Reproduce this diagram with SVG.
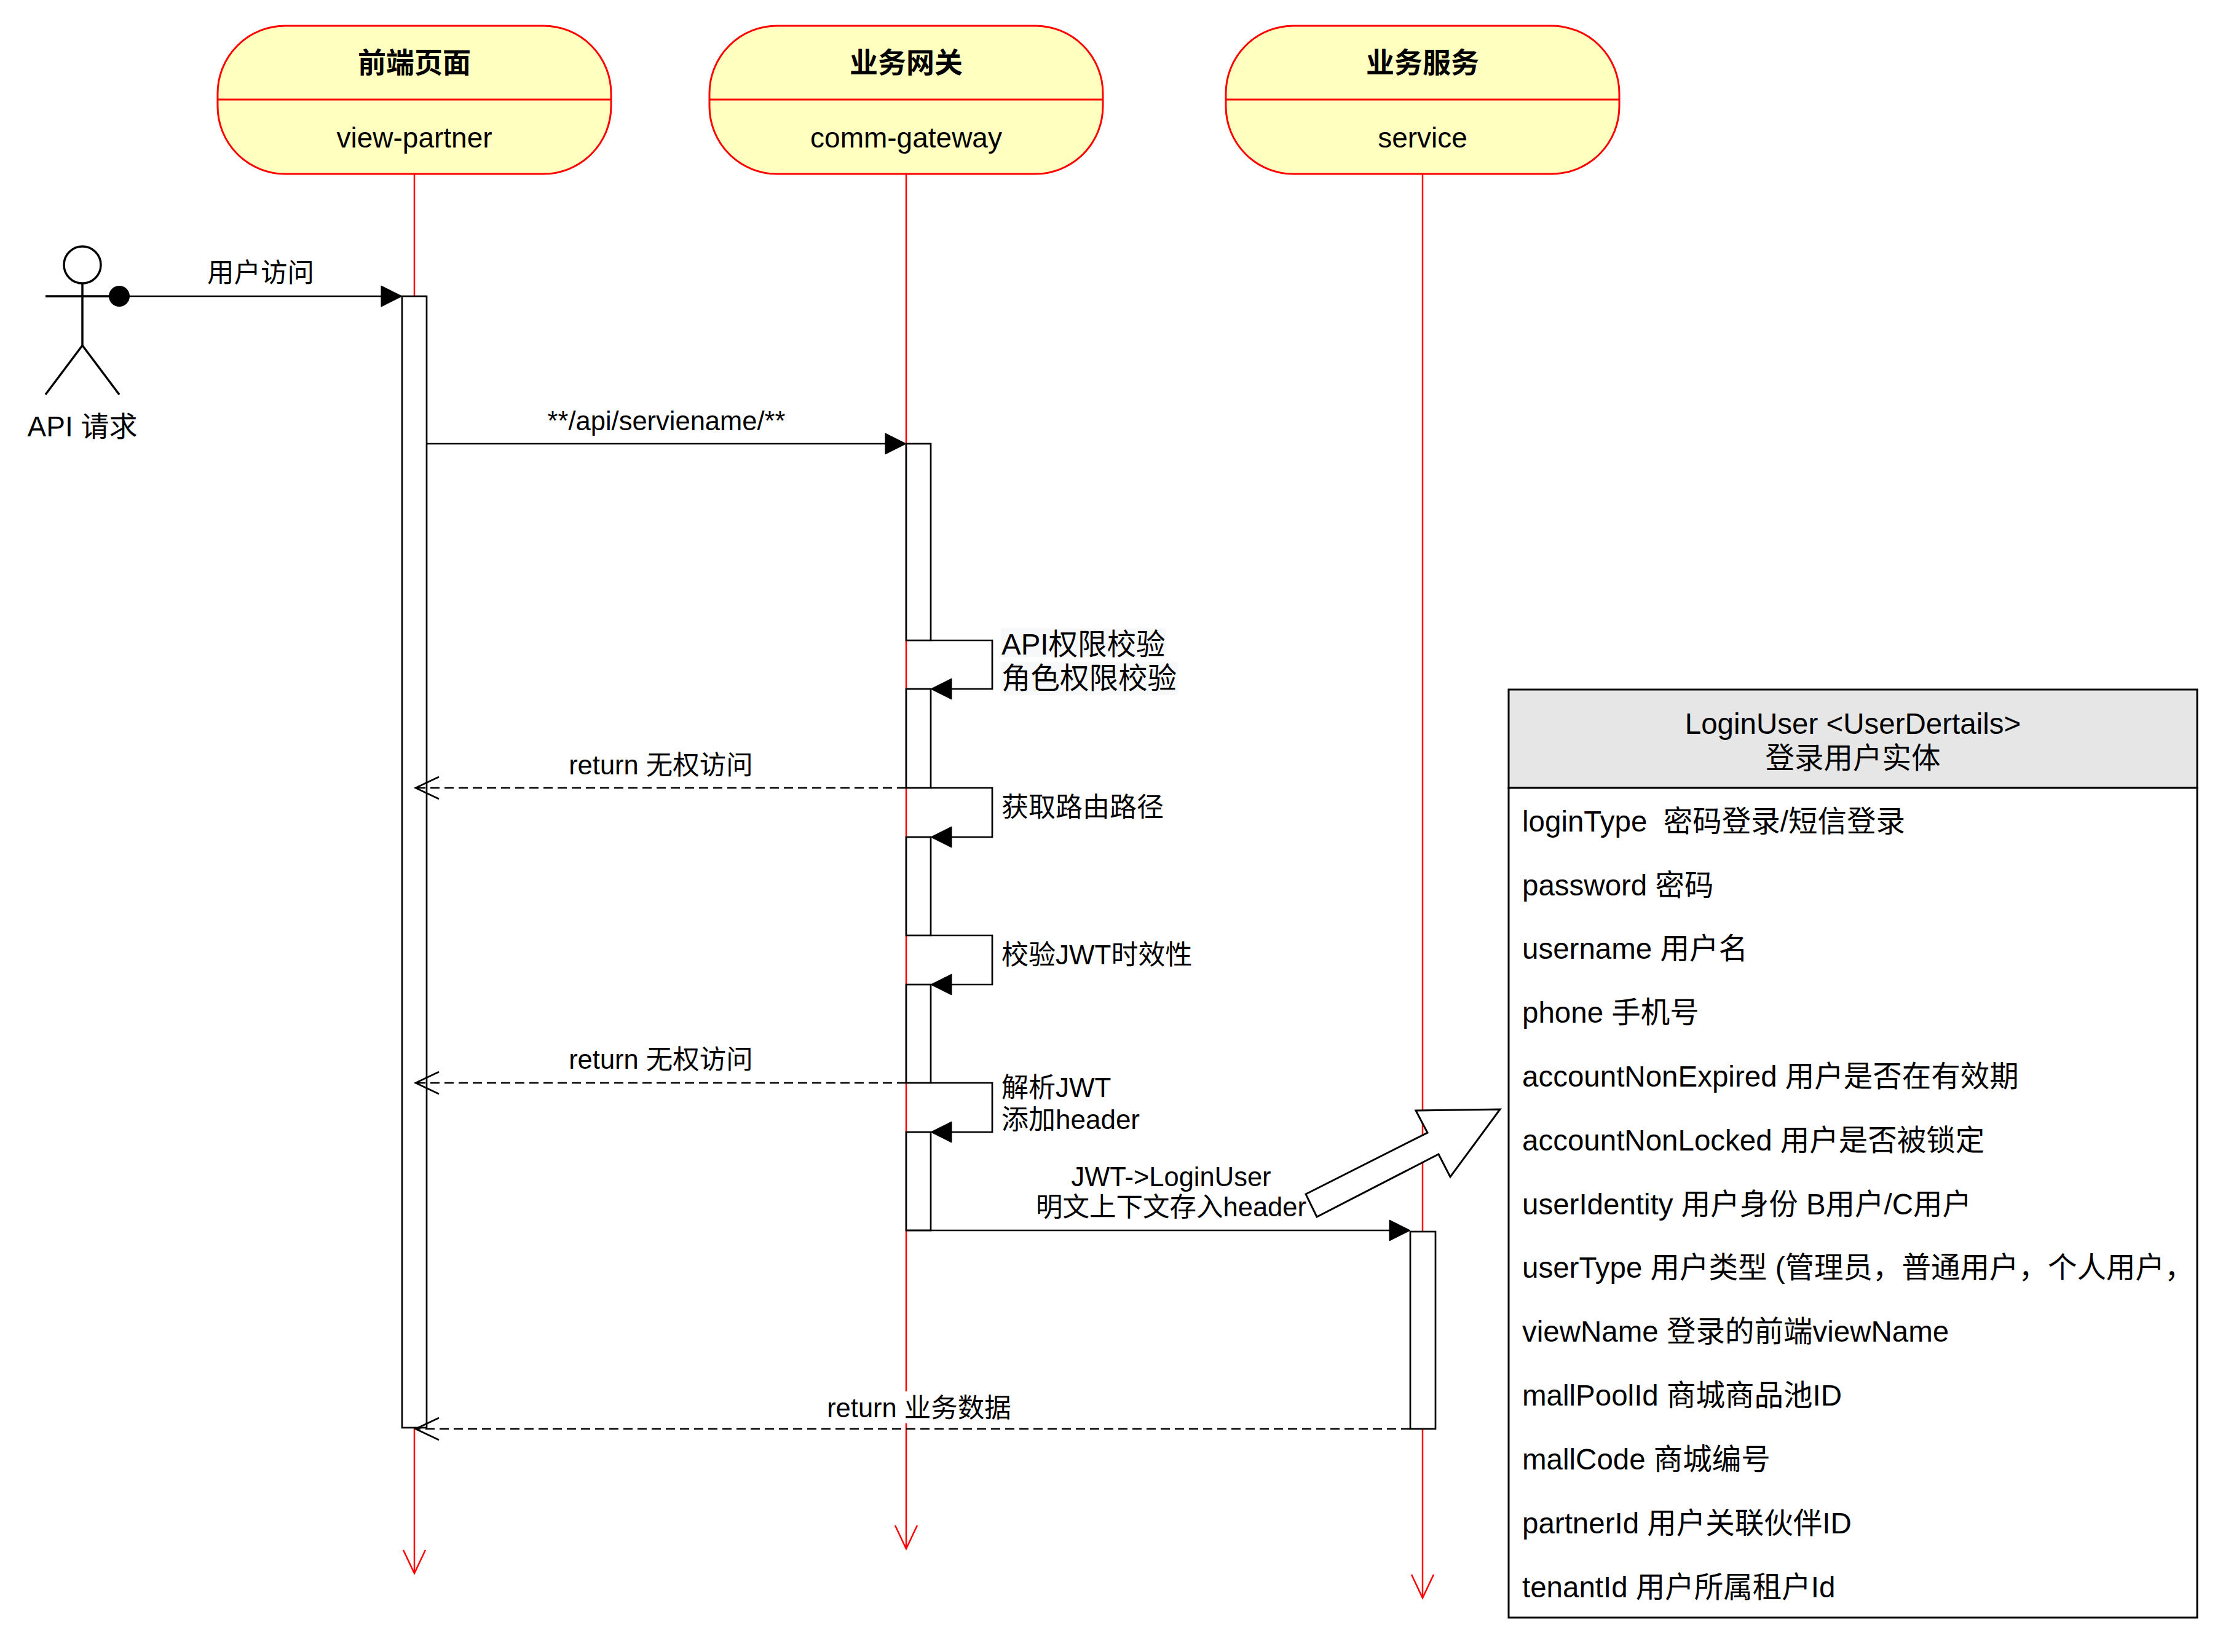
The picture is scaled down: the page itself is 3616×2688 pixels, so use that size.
<svg xmlns="http://www.w3.org/2000/svg" width="3616" height="2688" viewBox="0 0 3616 2688">
<defs>
<style>
text{font-family:"Liberation Sans","Noto Sans CJK SC",sans-serif;fill:#000}
.c{text-anchor:middle;dominant-baseline:central}
.l{text-anchor:start;dominant-baseline:central}
.hd{fill:#ffffc0;stroke:#ff0000;stroke-width:3}
.life{stroke:#ff0000;stroke-width:2.5;fill:none}
.bar{fill:#fff;stroke:#000;stroke-width:2.7}
.msg{stroke:#000;stroke-width:2.7;fill:none}
.dash{stroke:#000;stroke-width:2.7;fill:none;stroke-dasharray:15 8}
.tri{fill:#000;stroke:#000;stroke-width:1}
.open{fill:none;stroke:#000;stroke-width:2.7}
.m{font-size:43.5px}
.s{font-size:44px}
.it{font-size:47.5px}
</style>
<clipPath id="cbox"><rect x="2454" y="1122" width="1120" height="1510"/></clipPath>
</defs>
<rect x="0" y="0" width="3616" height="2688" fill="#fff"/>

<!-- lifelines -->
<g id="lifelines">
<line class="life" x1="674" y1="283" x2="674" y2="2558"/>
<polyline class="life" points="656,2522 674,2560 692,2522"/>
<line class="life" x1="1474" y1="283" x2="1474" y2="2517"/>
<polyline class="life" points="1456,2482 1474,2520 1492,2482"/>
<line class="life" x1="2314" y1="283" x2="2314" y2="2598"/>
<polyline class="life" points="2296,2562 2314,2600 2332,2562"/>
</g>

<!-- header nodes -->
<g id="node-view-partner">
<rect class="hd" x="354" y="42" width="640" height="241" rx="110" ry="110"/>
<line x1="354" y1="162" x2="994" y2="162" stroke="#ff0000" stroke-width="3"/>
<text class="c" x="674" y="102" font-size="46" font-weight="bold">前端页面</text>
<text class="c" x="674" y="224" font-size="46">view-partner</text>
</g>
<g id="node-gateway">
<rect class="hd" x="1154" y="42" width="640" height="241" rx="110" ry="110"/>
<line x1="1154" y1="162" x2="1794" y2="162" stroke="#ff0000" stroke-width="3"/>
<text class="c" x="1474" y="102" font-size="46" font-weight="bold">业务网关</text>
<text class="c" x="1474" y="224" font-size="46">comm-gateway</text>
</g>
<g id="node-service">
<rect class="hd" x="1994" y="42" width="640" height="241" rx="110" ry="110"/>
<line x1="1994" y1="162" x2="2634" y2="162" stroke="#ff0000" stroke-width="3"/>
<text class="c" x="2314" y="102" font-size="46" font-weight="bold">业务服务</text>
<text class="c" x="2314" y="224" font-size="46">service</text>
</g>

<!-- actor -->
<g id="node-actor" stroke="#000" stroke-width="3.5" fill="none">
<circle cx="134" cy="431" r="30" fill="#fff"/>
<line x1="134" y1="461" x2="134" y2="562"/>
<line x1="74" y1="482" x2="194" y2="482"/>
<line x1="134" y1="562" x2="74" y2="642"/>
<line x1="134" y1="562" x2="194" y2="642"/>
<text class="c" x="134" y="694" font-size="46" stroke="none" fill="#000">API 请求</text>
</g>

<!-- activation bars -->
<g id="node-bar-view">
<rect class="bar" x="654" y="482" width="40" height="1841"/>
</g>
<g id="node-bar-gateway">
<rect class="bar" x="1474" y="722" width="40" height="320"/>
<rect class="bar" x="1474" y="1121" width="40" height="161"/>
<rect class="bar" x="1474" y="1362" width="40" height="160"/>
<rect class="bar" x="1474" y="1602" width="40" height="160"/>
<rect class="bar" x="1474" y="1842" width="40" height="160"/>
</g>
<g id="node-bar-service">
<rect class="bar" x="2294" y="2004" width="41" height="321"/>
</g>

<!-- connectors -->
<g id="connectors">
<!-- user access -->
<circle cx="194" cy="482" r="17" fill="#000"/>
<line class="msg" x1="194" y1="482" x2="622" y2="482"/>
<polygon class="tri" points="620,465 654,482 620,499"/>
<text class="c m" x="424" y="444">用户访问</text>

<!-- api request -->
<line class="msg" x1="694" y1="722" x2="1442" y2="722"/>
<polygon class="tri" points="1440,705 1474,722 1440,739"/>
<text class="c m" x="1084" y="685">**/api/serviename/**</text>

<!-- self calls -->
<polyline class="msg" points="1514,1042 1614,1042 1614,1121 1546,1121"/>
<polygon class="tri" points="1548,1104 1514,1121 1548,1138"/>
<polyline class="msg" points="1514,1282 1614,1282 1614,1362 1546,1362"/>
<polygon class="tri" points="1548,1345 1514,1362 1548,1379"/>
<polyline class="msg" points="1514,1522 1614,1522 1614,1602 1546,1602"/>
<polygon class="tri" points="1548,1585 1514,1602 1548,1619"/>
<polyline class="msg" points="1514,1762 1614,1762 1614,1842 1546,1842"/>
<polygon class="tri" points="1548,1825 1514,1842 1548,1859"/>

<rect x="1628" y="1022" width="268" height="47" fill="#f7f8fa"/>
<rect x="1628" y="1077" width="288" height="54" fill="#f7f8fa"/>
<text class="l" x="1629" y="1048" font-size="47.5">API权限校验</text>
<text class="l" x="1629" y="1103" font-size="47.5">角色权限校验</text>
<text class="l s" x="1629" y="1313">获取路由路径</text>
<text class="l s" x="1629" y="1553">校验JWT时效性</text>
<text class="l s" x="1629" y="1769">解析JWT</text>
<text class="l s" x="1629" y="1821">添加header</text>

<!-- returns no permission -->
<line class="dash" x1="1474" y1="1282" x2="678" y2="1282"/>
<polyline class="open" points="714,1264 676,1282 714,1300"/>
<text class="c m" x="1075" y="1245">return 无权访问</text>
<line class="dash" x1="1474" y1="1762" x2="678" y2="1762"/>
<polyline class="open" points="714,1744 676,1762 714,1780"/>
<text class="c m" x="1075" y="1724">return 无权访问</text>

<!-- to service -->
<line class="msg" x1="1474" y1="2002" x2="2262" y2="2002"/>
<polygon class="tri" points="2260,1985 2294,2002 2260,2019"/>
<text class="c m" x="1905" y="1915">JWT-&gt;LoginUser</text>
<text class="c m" x="1905" y="1964">明文上下文存入header</text>

<!-- return data -->
<line class="dash" x1="2294" y1="2325" x2="678" y2="2325"/>
<polyline class="open" points="714,2307 676,2325 714,2343"/>
<rect x="1344" y="2264" width="302" height="52" fill="#fff"/>
<text class="c m" x="1495" y="2291">return 业务数据</text>

<!-- block arrow -->
<polygon points="2124,1943 2322,1843 2303,1807 2440,1805 2359,1915 2340,1878 2142,1980" fill="#fff" stroke="#000" stroke-width="3" stroke-linejoin="miter"/>
</g>

<!-- class box -->
<g id="node-loginuser">
<rect x="2454" y="1122" width="1120" height="160" fill="#e6e6e6" stroke="#000" stroke-width="3"/>
<rect x="2454" y="1282" width="1120" height="1350" fill="#fff" stroke="#000" stroke-width="3"/>
<text class="c it" x="3014" y="1177">LoginUser &lt;UserDertails&gt;</text>
<text class="c it" x="3014" y="1233">登录用户实体</text>
<g clip-path="url(#cbox)">
<text class="l it" x="2476" y="1336" xml:space="preserve">loginType  密码登录/短信登录</text>
<text class="l it" x="2476" y="1440">password 密码</text>
<text class="l it" x="2476" y="1543">username 用户名</text>
<text class="l it" x="2476" y="1647">phone 手机号</text>
<text class="l it" x="2476" y="1751">accountNonExpired 用户是否在有效期</text>
<text class="l it" x="2476" y="1855">accountNonLocked 用户是否被锁定</text>
<text class="l it" x="2476" y="1959">userIdentity 用户身份 B用户/C用户</text>
<text class="l it" x="2476" y="2062">userType 用户类型 (管理员，普通用户，个人用户，</text>
<text class="l it" x="2476" y="2166">viewName 登录的前端viewName</text>
<text class="l it" x="2476" y="2270">mallPoolId 商城商品池ID</text>
<text class="l it" x="2476" y="2374">mallCode 商城编号</text>
<text class="l it" x="2476" y="2478">partnerId 用户关联伙伴ID</text>
<text class="l it" x="2476" y="2582">tenantId 用户所属租户Id</text>
</g>
</g>
</svg>
